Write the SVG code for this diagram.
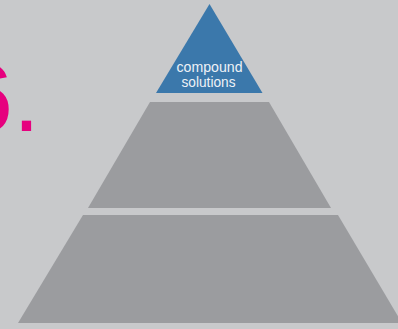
<svg xmlns="http://www.w3.org/2000/svg" width="398" height="329" viewBox="0 0 398 329">
  <style>
    .tier { fill: #9b9c9f; }
    .top { fill: #3b78ab; }
    .lbl { font-family: "Liberation Sans", Arial, sans-serif; font-size: 15px; fill: #eef2f7; text-anchor: middle; }
    .num { font-family: "Liberation Sans", Arial, sans-serif; font-size: 97px; fill: #e6007e; }
  </style>
  <rect width="398" height="329" fill="#c8c9cb"/>
  <text class="num" x="-41" y="131">6.</text>
  <g id="tier-top">
    <polygon class="top" points="209.5,4 262.5,93 156,93"/>
    <text class="lbl" x="209.5" y="71.5" textLength="66" lengthAdjust="spacingAndGlyphs">compound</text>
    <text class="lbl" x="208.5" y="87" textLength="54" lengthAdjust="spacingAndGlyphs">solutions</text>
  </g>
  <g id="tier-middle">
    <polygon class="tier" points="150,102 269,102 331,208 88,208"/>
  </g>
  <g id="tier-bottom">
    <polygon class="tier" points="83,215 338,215 402,323 18,323"/>
  </g>
  <g id="connectors"/>
</svg>
